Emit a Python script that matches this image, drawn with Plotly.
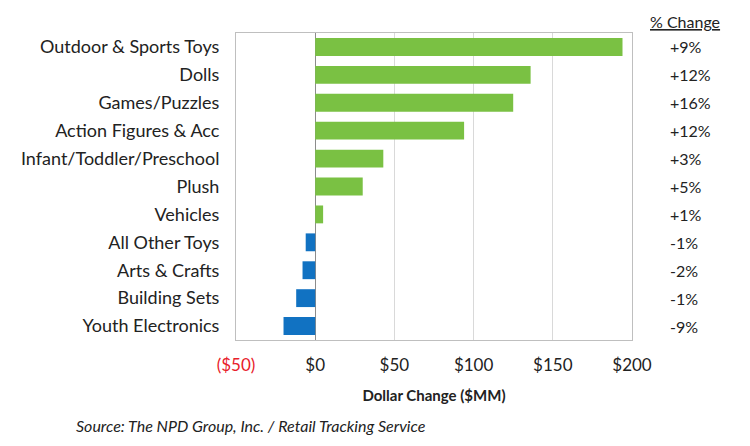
import plotly.graph_objects as go

# categories, top to bottom
categories = ['Outdoor & Sports Toys', 'Dolls', 'Games/Puzzles', 'Action Figures & Acc',
              'Infant/Toddler/Preschool', 'Plush', 'Vehicles', 'All Other Toys',
              'Arts & Crafts', 'Building Sets', 'Youth Electronics']
dollar_change = [194, 136, 125, 94, 43, 30, 5, -6, -8, -12, -20]
pct_change = ['+9%', '+12%', '+16%', '+12%', '+3%', '+5%', '+1%', '-1%', '-2%', '-1%', '-9%']

tick_vals = [-50, 0, 50, 100, 150, 200]
tick_text = ['<span style="color:#E8202A">($50)</span>', '$0', '$50', '$100', '$150', '$200']

GREEN = '#7AC143'
BLUE = '#1172C2'
FONT = 'Lato'

colors = [GREEN if v >= 0 else BLUE for v in dollar_change]

fig = go.Figure(go.Bar(
    x=dollar_change, y=categories, orientation='h',
    marker=dict(color=colors, line=dict(width=0)),
    hoverinfo='x+y',
))

for cat, pct in zip(categories, pct_change):
    fig.add_annotation(x=1.091, xref='paper', y=cat, yref='y', text=pct,
                       showarrow=False, xanchor='left',
                       font=dict(family=FONT, size=16, color='#222'))

fig.add_annotation(x=1.134, xref='paper', y=1.039, yref='paper',
                   text='<u>% Change</u>', showarrow=False, xanchor='center',
                   yanchor='middle', font=dict(family=FONT, size=16, color='#222'))

fig.add_annotation(x=-0.409, xref='paper', y=-0.277, yref='paper',
                   text='<i>Source: The NPD Group, Inc. / Retail Tracking Service</i>',
                   showarrow=False, xanchor='left', yanchor='middle',
                   font=dict(family=FONT, size=16, color='#222'))

# page has an 8px body margin, so the figure is sized and offset to match
fig.update_layout(
    width=742, height=438,
    margin=dict(l=228, r=118, t=25, b=106),
    paper_bgcolor='white', plot_bgcolor='white',
    font=dict(family=FONT, size=17, color='#222'),
    bargap=0.36,
    showlegend=False,
    xaxis=dict(
        range=[-50, 200], tickvals=tick_vals, ticktext=tick_text,
        showgrid=True, gridcolor='#D9D9D9', gridwidth=1,
        zeroline=True, zerolinecolor='#8C8C8C', zerolinewidth=1,
        showline=True, linecolor='#BFBFBF', mirror=True,
        ticks='', ticklabelstandoff=10,
        title=dict(text='<b>Dollar Change ($MM)</b>', font=dict(size=15), standoff=16),
    ),
    yaxis=dict(
        autorange='reversed', showline=True, linecolor='#BFBFBF', mirror=True,
        ticks='', ticklabelstandoff=12, showgrid=False,
        tickfont=dict(size=18),
    ),
)

fig.write_html('out.html')
